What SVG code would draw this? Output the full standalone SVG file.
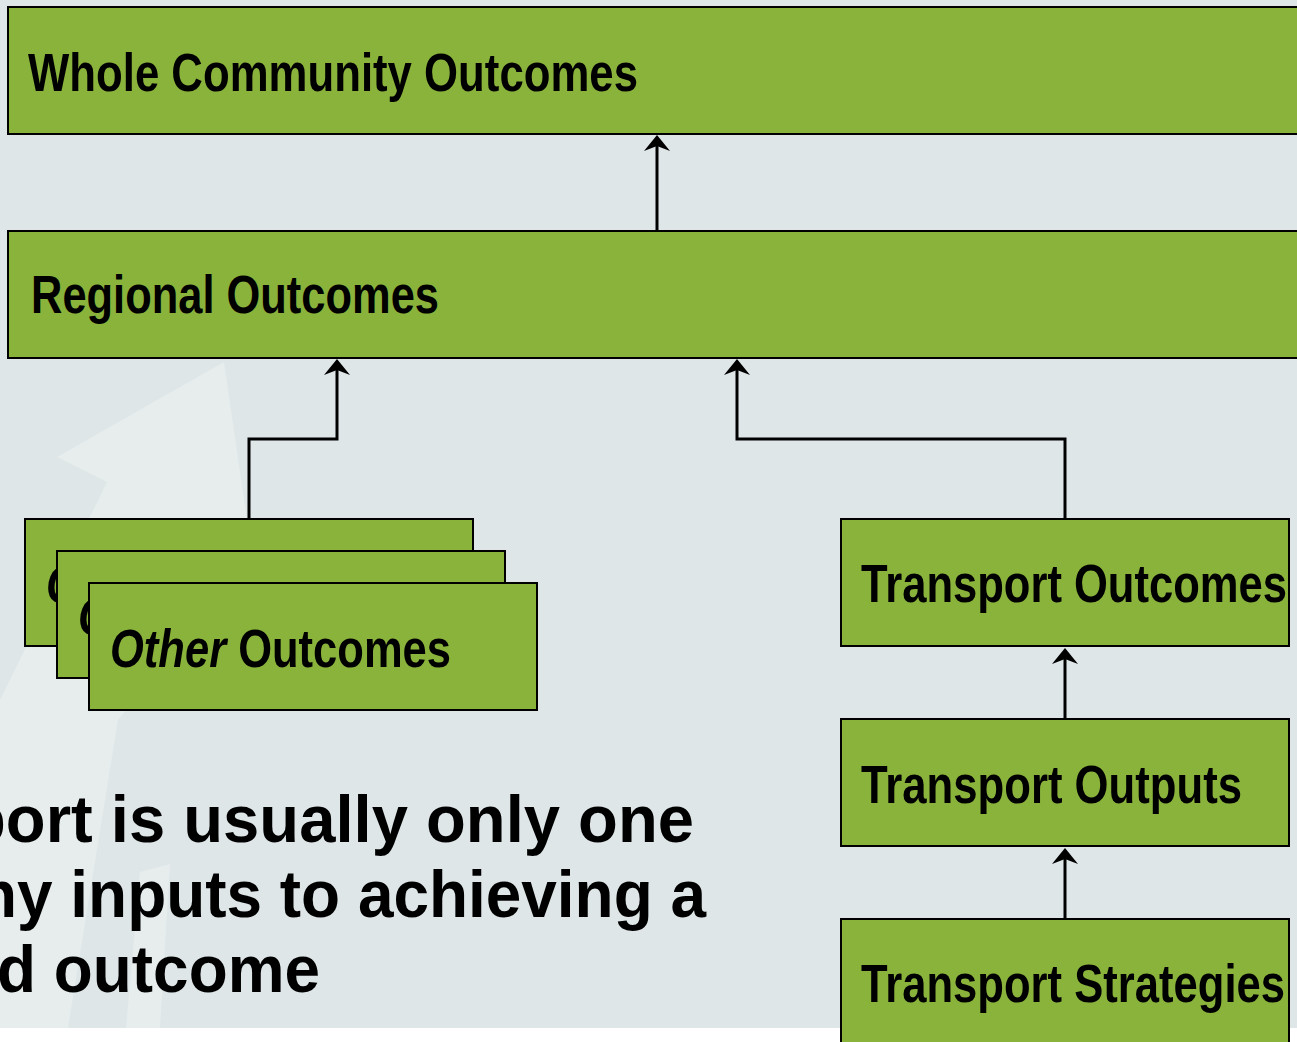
<svg xmlns="http://www.w3.org/2000/svg" width="1297" height="1042" viewBox="0 0 1297 1042">
  <style>
    .box { fill: #8AB33C; stroke: #000; stroke-width: 2; }
    .lbl { font-family: "Liberation Sans Narrow", "Liberation Sans", Arial, sans-serif; font-weight: bold; font-size: 53px; fill: #000; }
    .note { font-family: "Liberation Sans", Arial, sans-serif; font-weight: bold; font-size: 66px; fill: #000; }
    .wire { fill: none; stroke: #000; stroke-width: 3; }
    .head { fill: #000; }
  </style>
  <defs>
    <!-- upward arrowhead, tip at the origin -->
    <path id="tipUp" class="head" d="M0,0 L13,16 L0,11 L-13,16 Z"/>
  </defs>

  <!-- page background -->
  <rect x="0" y="0" width="1297" height="1042" fill="#FFFFFF"/>
  <rect x="0" y="0" width="1297" height="1028" fill="#DEE6E8"/>

  <!-- faint watermark arrow in the lower left -->
  <g fill="#E7EDED">
    <polygon points="224,362 57,457 107,482 0,700 0,1028 68,1028 118,720 252,560 246,513"/>
    <polygon points="140,872 170,864 160,1028 126,1028"/>
  </g>

  <!-- connectors -->
  <g id="connectors">
    <path class="wire" d="M657,231 V144"/>
    <use href="#tipUp" x="657" y="135"/>

    <path class="wire" d="M249,519 V439 H337 V368"/>
    <use href="#tipUp" x="337" y="359"/>

    <path class="wire" d="M1065,519 V439 H737 V368"/>
    <use href="#tipUp" x="737" y="359"/>

    <path class="wire" d="M1065,719 V657"/>
    <use href="#tipUp" x="1065" y="648"/>

    <path class="wire" d="M1065,919 V857"/>
    <use href="#tipUp" x="1065" y="848"/>
  </g>

  <!-- nodes -->
  <g id="whole-community">
    <rect class="box" x="8" y="7" width="1300" height="127"/>
    <text class="lbl" x="28" y="91" textLength="610" lengthAdjust="spacingAndGlyphs">Whole Community Outcomes</text>
  </g>

  <g id="regional">
    <rect class="box" x="8" y="231" width="1300" height="127"/>
    <text class="lbl" x="31" y="313" textLength="408" lengthAdjust="spacingAndGlyphs">Regional Outcomes</text>
  </g>

  <g id="other-1">
    <rect class="box" x="25" y="519" width="448" height="127"/>
    <text class="lbl" x="46" y="603" textLength="341" lengthAdjust="spacingAndGlyphs"><tspan font-style="italic">Other</tspan> Outcomes</text>
  </g>
  <g id="other-2">
    <rect class="box" x="57" y="551" width="448" height="127"/>
    <text class="lbl" x="78" y="635" textLength="341" lengthAdjust="spacingAndGlyphs"><tspan font-style="italic">Other</tspan> Outcomes</text>
  </g>
  <g id="other-3">
    <rect class="box" x="89" y="583" width="448" height="127"/>
    <text class="lbl" x="110" y="667" textLength="341" lengthAdjust="spacingAndGlyphs"><tspan font-style="italic">Other</tspan> Outcomes</text>
  </g>

  <g id="transport-outcomes">
    <rect class="box" x="841" y="519" width="448" height="127"/>
    <text class="lbl" x="861" y="602" textLength="426" lengthAdjust="spacingAndGlyphs">Transport Outcomes</text>
  </g>
  <g id="transport-outputs">
    <rect class="box" x="841" y="719" width="448" height="127"/>
    <text class="lbl" x="861" y="803" textLength="381" lengthAdjust="spacingAndGlyphs">Transport Outputs</text>
  </g>
  <g id="transport-strategies">
    <rect class="box" x="841" y="919" width="448" height="140"/>
    <text class="lbl" x="861" y="1002" textLength="424" lengthAdjust="spacingAndGlyphs">Transport Strategies</text>
  </g>

  <!-- caption -->
  <g id="caption">
    <text class="note" x="-34" y="842" textLength="728" lengthAdjust="spacingAndGlyphs">port is usually only one</text>
    <text class="note" x="-22" y="917" textLength="728" lengthAdjust="spacingAndGlyphs">ny inputs to achieving a</text>
    <text class="note" x="-3" y="992" textLength="323" lengthAdjust="spacingAndGlyphs">d outcome</text>
  </g>
</svg>
